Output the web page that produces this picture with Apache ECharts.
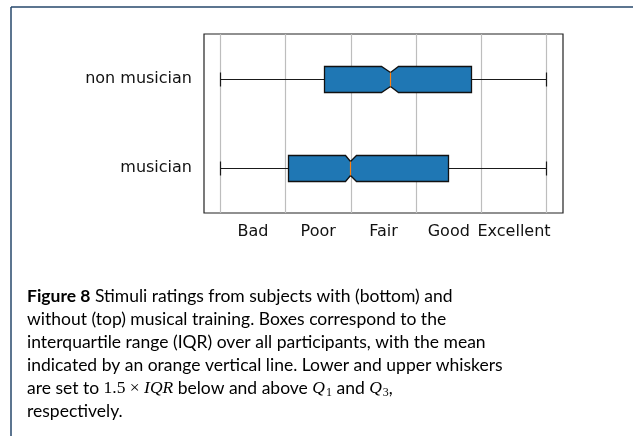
<!DOCTYPE html>
<html>
<head>
<meta charset="utf-8">
<script src="https://cdn.jsdelivr.net/npm/echarts@6/dist/echarts.min.js"></script>
<style>
  html, body { margin: 0; padding: 0; background: #fff; }
  #chart { width: 633px; height: 436px; }
</style>
</head>
<body>
<div id="chart"></div>
<script>
// categories bottom -> top
const categories = ['musician', 'non musician'];
const whiskerLow = [1, 1];
const q1 = [2.05, 2.59];
const notchLow = [2.92, 3.47];
const median = [3.0, 3.6];
const notchHigh = [3.08, 3.73];
const q3 = [4.5, 4.85];
const whiskerHigh = [6, 6];

// rating scale
const ratingLabels = ['Bad', 'Poor', 'Fair', 'Good', 'Excellent'];
const labelValues = [1.5, 2.5, 3.5, 4.5, 5.5];
const gridValues = [1, 2, 3, 4, 5, 6];

const captionLines = [
  '{b|Figure 8} Stimuli ratings from subjects with (bottom) and',
  'without (top) musical training. Boxes correspond to the',
  'interquartile range (IQR) over all participants, with the mean',
  'indicated by an orange vertical line. Lower and upper whiskers',
  'are set to {m|1.5 × }{i|IQR} below and above {i|Q}{s|1} and {i|Q}{s|3},',
  'respectively.'
];

const boxData = categories.map((c, i) => [i, whiskerLow[i], q1[i], notchLow[i], median[i], notchHigh[i], q3[i], whiskerHigh[i]]);

const chart = echarts.init(document.getElementById('chart'), null, { renderer: 'canvas' });

// snap to pixel centre so thin lines stay crisp
const px = v => Math.round(v - 0.5) + 0.5;

// notched box like matplotlib
function renderBox(params, api) {
  const cat = api.value(0);
  const lo = api.value(1), a = api.value(2), nl = api.value(3), m = api.value(4),
        nh = api.value(5), b = api.value(6), hi = api.value(7);
  const yc = px(api.coord([m, cat])[1] + 0.5);
  const band = api.size([0, 1])[1];
  const half = Math.round(band * 0.15);
  const nHalf = Math.round(half * 0.5);
  const capHalf = Math.round(half * 0.5);
  const X = v => px(api.coord([v, cat])[0]);
  const black = { stroke: '#1a1a1a', lineWidth: 1.2 };
  return {
    type: 'group',
    children: [
      { type: 'line', shape: { x1: X(lo), y1: yc, x2: X(a), y2: yc }, style: black },
      { type: 'line', shape: { x1: X(b), y1: yc, x2: X(hi), y2: yc }, style: black },
      { type: 'line', shape: { x1: X(lo), y1: yc - capHalf, x2: X(lo), y2: yc + capHalf }, style: black },
      { type: 'line', shape: { x1: X(hi), y1: yc - capHalf, x2: X(hi), y2: yc + capHalf }, style: black },
      {
        type: 'polygon',
        shape: {
          points: [
            [X(a), yc - half], [X(nl), yc - half], [X(m), yc - nHalf], [X(nh), yc - half], [X(b), yc - half],
            [X(b), yc + half], [X(nh), yc + half], [X(m), yc + nHalf], [X(nl), yc + half], [X(a), yc + half]
          ]
        },
        style: { fill: '#1f77b4', stroke: '#111', lineWidth: 1.3 }
      },
      { type: 'line', shape: { x1: X(m), y1: yc - nHalf, x2: X(m), y2: yc + nHalf }, style: { stroke: '#ff7f0e', lineWidth: 1.2 } }
    ]
  };
}

const capFont = 'Lato';
const mathFont = 'Liberation Serif';
const capSize = 17.5;

const option = {
  backgroundColor: '#fff',
  animation: false,
  grid: { left: 204, right: 70, top: 34, bottom: 223, show: true, borderColor: '#222', borderWidth: 1.2, backgroundColor: 'transparent' },
  xAxis: {
    type: 'value',
    min: 0.75,
    max: 6.25,
    axisLine: { show: false },
    axisTick: { show: false },
    splitLine: { show: false },
    axisLabel: {
      customValues: labelValues,
      formatter: v => ratingLabels[Math.round(v - 1.5)],
      color: '#111',
      fontFamily: 'DejaVu Sans',
      fontSize: 16,
      margin: 11
    }
  },
  yAxis: {
    type: 'category',
    data: categories,
    axisLine: { show: false },
    axisTick: { show: false },
    splitLine: { show: false },
    axisLabel: { color: '#111', fontFamily: 'DejaVu Sans', fontSize: 16, margin: 12 }
  },
  series: [
    {
      type: 'scatter',
      data: [],
      z: 1,
      silent: true,
      markLine: {
        z: 1,
        silent: true,
        symbol: 'none',
        label: { show: false },
        lineStyle: { color: '#bdbdbd', width: 1.2, type: 'solid' },
        data: gridValues.map(v => ({ xAxis: v }))
      }
    },
    {
      type: 'custom',
      z: 6,
      renderItem: renderBox,
      encode: { x: [1, 2, 3, 4, 5, 6, 7], y: 0 },
      data: boxData
    }
  ],
  graphic: [
    { type: 'line', shape: { x1: 11, y1: 7, x2: 633, y2: 7 }, style: { stroke: '#26476b', lineWidth: 1.5 } },
    { type: 'line', shape: { x1: 11, y1: 7, x2: 11, y2: 436 }, style: { stroke: '#26476b', lineWidth: 1.5 } }
  ].concat(captionLines.map((t, i) => ({
    type: 'text',
    left: 27,
    top: 287 + i * 23,
    style: {
      text: t,
      fill: '#000',
      fontFamily: capFont,
      fontSize: capSize,
      rich: {
        b: { fontFamily: capFont, fontSize: capSize, fontWeight: 'bold', fill: '#000' },
        m: { fontFamily: mathFont, fontSize: capSize, fill: '#000' },
        i: { fontFamily: mathFont, fontSize: capSize, fontStyle: 'italic', fill: '#000' },
        s: { fontFamily: mathFont, fontSize: 12, fill: '#000', padding: [9, 0, 0, 1] }
      }
    }
  })))
};

chart.setOption(option);
</script>
</body>
</html>
